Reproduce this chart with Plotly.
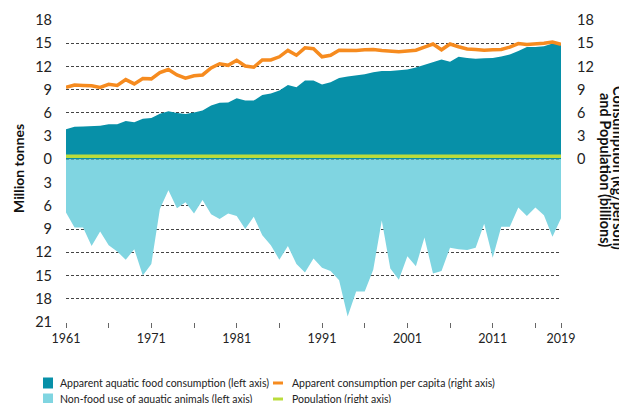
import plotly.graph_objects as go

years = list(range(1961, 2020))

food = [3.9, 4.2, 4.25, 4.3, 4.35, 4.55, 4.55, 4.95, 4.8, 5.25,
        5.35, 5.9, 6.2, 6.0, 5.85, 6.05, 6.3, 6.95, 7.3, 7.35,
        7.9, 7.6, 7.6, 8.3, 8.5, 8.9, 9.6, 9.3, 10.2, 10.2,
        9.66, 9.96, 10.5, 10.7, 10.85, 11.0, 11.26, 11.4, 11.4, 11.5,
        11.6, 11.85, 12.2, 12.55, 12.9, 12.6, 13.25, 13.1, 13.0, 13.05,
        13.1, 13.3, 13.55, 14.0, 14.5, 14.5, 14.6, 14.95, 15.0]

nonfood = [6.85, 8.8, 8.8, 11.2, 9.3, 11.1, 11.9, 12.95, 11.6, 15.0,
           13.5, 6.4, 4.0, 6.3, 5.55, 7.0, 5.25, 7.1, 7.7, 7.0,
           7.3, 9.0, 7.4, 9.8, 11.1, 12.95, 11.2, 13.5, 14.6, 12.8,
           14.0, 14.4, 15.6, 20.3, 17.05, 17.05, 14.25, 7.9, 14.1, 15.55,
           12.5, 13.8, 10.1, 14.75, 14.4, 11.4, 11.6, 11.7, 11.4, 8.3,
           12.7, 8.7, 8.7, 6.2, 7.3, 6.2, 7.2, 10.0, 7.6]

percap = [9.3, 9.6, 9.55, 9.5, 9.3, 9.7, 9.55, 10.3, 9.75, 10.45,
          10.4, 11.2, 11.6, 10.9, 10.5, 10.8, 10.9, 11.8, 12.35, 12.15,
          12.8, 12.05, 11.9, 12.85, 12.85, 13.25, 14.07, 13.45, 14.4, 14.3,
          13.25, 13.45, 14.1, 14.07, 14.07, 14.15, 14.2, 14.07, 13.95, 13.9,
          14.0, 14.1, 14.5, 14.9, 14.15, 14.9, 14.55, 14.25, 14.2, 14.1,
          14.15, 14.2, 14.5, 14.96, 14.85, 14.9, 15.0, 15.15, 14.85]

population = [0.4, 0.4, 0.4, 0.4, 0.4, 0.4, 0.4, 0.4, 0.4, 0.4,
              0.4, 0.4, 0.4, 0.4, 0.4, 0.4, 0.4, 0.4, 0.4, 0.4,
              0.4, 0.4, 0.4, 0.4, 0.4, 0.4, 0.4, 0.4, 0.4, 0.4,
              0.4, 0.4, 0.4, 0.4, 0.4, 0.4, 0.4, 0.4, 0.4, 0.4,
              0.4, 0.4, 0.4, 0.4, 0.4, 0.4, 0.4, 0.4, 0.4, 0.4,
              0.4, 0.4, 0.4, 0.4, 0.4, 0.4, 0.4, 0.4, 0.4]

left_ticks = [18, 15, 12, 9, 6, 3, 0, -3, -6, -9, -12, -15, -18, -21]
right_ticks = [0, 3, 6, 9, 12, 15, 18]
x_tickvals = [1961, 1966, 1971, 1976, 1981, 1986, 1991, 1996, 2001, 2006, 2011, 2016, 2019]
x_ticklabels = ["1961", "", "1971", "", "1981", "", "1991", "", "2001", "", "2011", "", "2019"]

legend_names = ["Apparent aquatic food consumption (left axis)",
                "Non-food use of aquatic animals (left axis)",
                "Apparent consumption per capita (right axis)",
                "Population (right axis)"]

TEAL = "#0790A8"
LIGHT = "#80D5E1"
ORANGE = "#F68B1F"
GREEN = "#BADC3C"
FONT = "Lato"

# page body has an 8px margin, so figure coords = screen coords - 8
OFF = 8
W, H = 627, 403
ML, MT = 66 - OFF, 20 - OFF
PW, PH = 495, 302
MR = W - ML - PW
MB = H - MT - PH


def px(x):
    return (x - OFF - ML) / PW


def py(y):
    return 1 - (y - OFF - MT) / PH


fig = go.Figure()
fig.add_trace(go.Scatter(x=years, y=food, mode="lines", fill="tozeroy",
                         line=dict(width=0, color=TEAL), fillcolor=TEAL,
                         name=legend_names[0]))
fig.add_trace(go.Scatter(x=years, y=[-v for v in nonfood], mode="lines", fill="tozeroy",
                         line=dict(width=0, color=LIGHT), fillcolor=LIGHT,
                         name=legend_names[1]))
fig.add_trace(go.Scatter(x=years, y=population, mode="lines", yaxis="y2",
                         line=dict(width=3.5, color=GREEN),
                         name=legend_names[3]))
fig.add_trace(go.Scatter(x=years, y=percap, mode="lines", yaxis="y2",
                         line=dict(width=3.5, color=ORANGE),
                         name=legend_names[2]))

fig.update_layout(
    width=W, height=H,
    margin=dict(l=ML, r=MR, t=MT, b=MB, autoexpand=False),
    paper_bgcolor="white", plot_bgcolor="white",
    font=dict(family=FONT, color="#222", size=12),
    showlegend=False,
    xaxis=dict(range=[1961, 2019], tickvals=x_tickvals, ticktext=x_ticklabels,
               ticks="outside", ticklen=5, tickcolor="#666", tickwidth=1,
               showgrid=False, showline=False, zeroline=False, automargin=False,
               tickfont=dict(size=12.5, family=FONT)),
    yaxis=dict(range=[-21, 18], tickvals=left_ticks,
               ticktext=[str(abs(v)) for v in left_ticks],
               showgrid=True, gridcolor="#444", gridwidth=1, griddash="3px,2px",
               zeroline=False, showline=False, ticklabelstandoff=13, automargin=False,
               tickfont=dict(size=14.5, family=FONT)),
    yaxis2=dict(range=[-21, 18], tickvals=right_ticks,
                ticktext=[str(v) for v in right_ticks],
                overlaying="y", side="right", showgrid=False, zeroline=False,
                showline=False, ticklabelstandoff=15, automargin=False,
                tickfont=dict(size=14.5, family=FONT)),
)

# axis titles
fig.add_annotation(text="<b>Million tonnes</b>", textangle=-90,
                   x=px(18), y=py(169), xref="paper", yref="paper", showarrow=False,
                   xanchor="center", yanchor="middle",
                   font=dict(size=14, family=FONT, color="#111"))
fig.add_annotation(text="<b>Consumption (kg/person)</b>",
                   textangle=90, x=px(619), y=py(168), xref="paper", yref="paper",
                   xanchor="center", yanchor="middle",
                   showarrow=False, font=dict(size=14.5, family=FONT, color="#111"))
fig.add_annotation(text="<b>and Population (billions)</b>",
                   textangle=90, x=px(606), y=py(170), xref="paper", yref="paper",
                   xanchor="center", yanchor="middle",
                   showarrow=False, font=dict(size=14.5, family=FONT, color="#111"))

# manual legend
legend_items = [
    (legend_names[0], "box", TEAL, 43, 383),
    (legend_names[1], "box", LIGHT, 43, 399),
    (legend_names[2], "line", ORANGE, 273, 383),
    (legend_names[3], "line", GREEN, 273, 399),
]
for name, kind, color, x0, yc in legend_items:
    if kind == "box":
        fig.add_shape(type="rect", xref="paper", yref="paper",
                      x0=px(x0), x1=px(x0 + 10), y0=py(yc - 5.5), y1=py(yc + 5.5),
                      fillcolor=color, line=dict(width=0))
        tx = x0 + 15
    else:
        fig.add_shape(type="line", xref="paper", yref="paper",
                      x0=px(x0), x1=px(x0 + 10), y0=py(yc), y1=py(yc),
                      line=dict(color=color, width=3))
        tx = x0 + 17
    fig.add_annotation(text=name, x=px(tx), y=py(yc), xref="paper", yref="paper",
                       xanchor="left", yanchor="middle", showarrow=False,
                       font=dict(size=10.5, family=FONT, color="#222"))

fig.write_html("out.html")
